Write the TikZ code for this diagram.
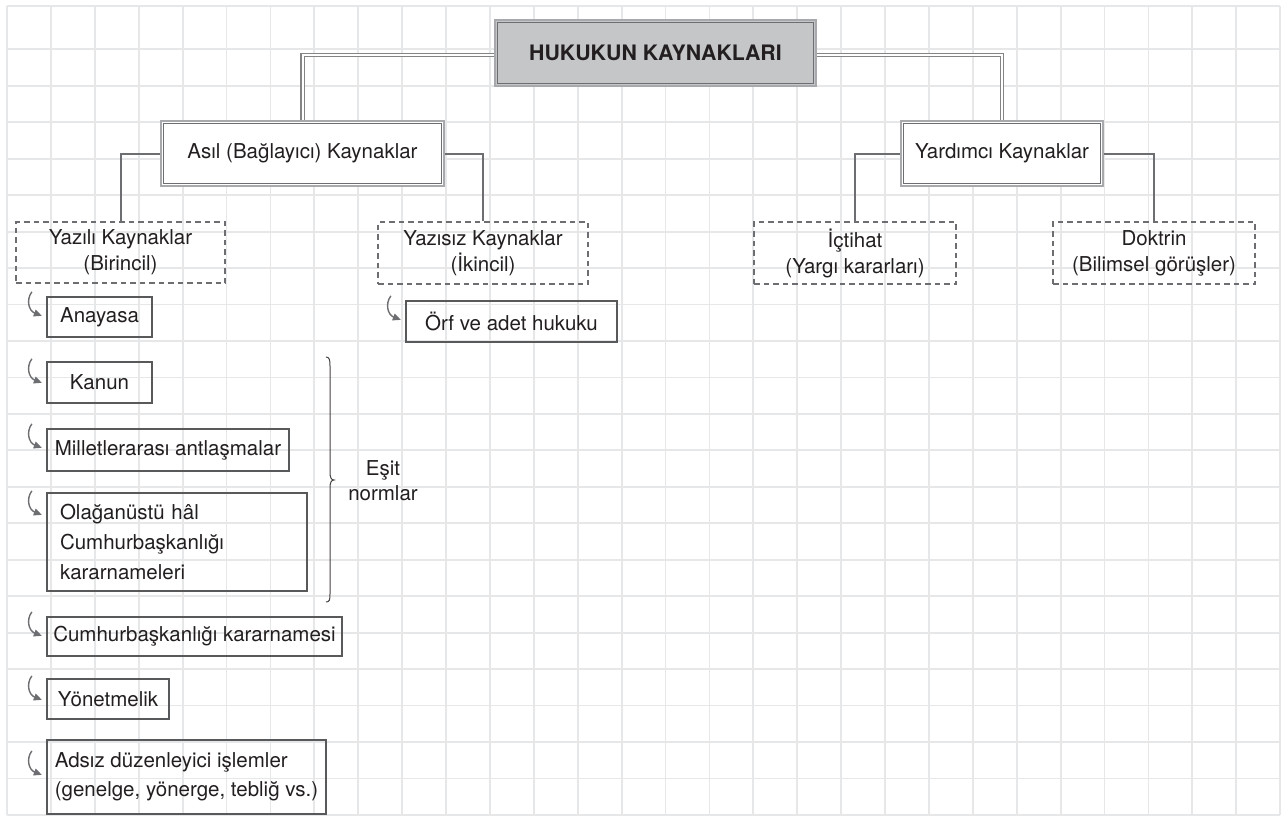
\documentclass[tikz,border=0pt]{standalone}
\usepackage{fontspec}
\setmainfont{TeX Gyre Heros}
\usetikzlibrary{arrows.meta}
\definecolor{gridc}{RGB}{230,231,232}
\definecolor{ink}{RGB}{35,31,32}
\definecolor{lineg}{RGB}{109,110,113}
\definecolor{outerg}{RGB}{167,169,172}
\definecolor{titlefill}{RGB}{197,198,200}
\definecolor{boxg}{RGB}{88,89,91}
\pgfdeclarelayer{bg}
\pgfdeclarelayer{mid}
\pgfsetlayers{bg,mid,main}
\newcommand{\bentarr}[2]{\draw[bent] ([shift={(-14,#2)}]#1.north west) .. controls ([shift={(-20,#2+8)}]#1.north west) and ([shift={(-17,#2+19)}]#1.north west) .. ([shift={(-4,#2+24)}]#1.north west);}
\begin{document}
\begin{tikzpicture}[x=1pt,y=-1pt,
  every node/.style={text=ink, font=\fontsize{20.5}{26}\selectfont},
  gridline/.style={draw=gridc, line width=1.8pt},
  dblbox/.style={draw=outerg, line width=1.1pt, fill=white, inner sep=0pt},
  innerline/.style={draw=lineg, line width=1.3pt},
  dashbox/.style={draw=lineg, line width=2.4pt, dash pattern=on 5.5pt off 4pt, align=center, inner sep=0pt},
  sketchbox/.style={draw=boxg, line width=2.3pt, inner sep=0pt},
  conn/.style={draw=lineg, line width=2pt},
  dconn/.style={draw=lineg!85, line width=1.2pt, double=white, double distance=2pt},
  bent/.style={draw=lineg, line width=1.4pt, -{Triangle[length=8pt,width=7pt]}},
  bracel/.style={draw=ink!85, line width=1pt}
]
\useasboundingbox (0,0) rectangle (1282,816);
\begin{pgfonlayer}{bg}
\fill[white] (0,0) rectangle (1282,816);
\foreach \i in {0,...,29} \draw[gridline] ({7+43.9*\i},6) -- ({7+43.9*\i},815);
\draw[gridline] (7,6) -- (1280,6);
\foreach \j in {0,...,21} \draw[gridline] (7,{49.3+36.46*\j}) -- (1280,{49.3+36.46*\j});
\end{pgfonlayer}

% top level
\node[dblbox, fill=titlefill, minimum width=321pt, minimum height=66pt, font=\fontsize{21.3}{26}\selectfont\bfseries] (title) at (655.5,53) {HUKUKUN KAYNAKLARI};
\draw[innerline] ([shift={(2.8,2.8)}]title.north west) rectangle ([shift={(-2.8,-2.8)}]title.south east);

\node[dblbox, minimum width=283pt, minimum height=65pt] (asil) at (302.5,153.5) {Asıl (Bağlayıcı) Kaynaklar};
\draw[innerline] ([shift={(2.8,2.8)}]asil.north west) rectangle ([shift={(-2.8,-2.8)}]asil.south east);

\node[dblbox, minimum width=202pt, minimum height=65pt] (yard) at (1002,153.5) {Yardımcı Kaynaklar};
\draw[innerline] ([shift={(2.8,2.8)}]yard.north west) rectangle ([shift={(-2.8,-2.8)}]yard.south east);

% second level
\node[dashbox, minimum width=209pt, minimum height=61pt] (yazili) at (120.5,252.5) {Yazılı Kaynaklar\\(Birincil)};
\node[dashbox, minimum width=210pt, minimum height=62pt] (yazisiz) at (483,253) {Yazısız Kaynaklar\\(İkincil)};
\node[dashbox, minimum width=202pt, minimum height=62pt] (ictihat) at (855,253) {İçtihat\\(Yargı kararları)};
\node[dashbox, minimum width=202pt, minimum height=62pt] (doktrin) at (1154,253) {Doktrin\\(Bilimsel görüşler)};

% leaves
\node[sketchbox, minimum width=211pt, minimum height=41pt] (orf) at (511.5,321.5) {Örf ve adet hukuku};
\node[sketchbox, minimum width=105pt, minimum height=40pt] (anayasa) at (99.5,317) {Anayasa};
\node[sketchbox, minimum width=105pt, minimum height=41pt] (kanun) at (99.5,382.5) {Kanun};
\node[sketchbox, minimum width=242pt, minimum height=42pt] (millet) at (168,450) {Milletlerarası antlaşmalar};
\node[sketchbox, minimum width=260pt, minimum height=98pt, text width=234pt, inner xsep=13pt, align=left, font=\fontsize{20.5}{30}\selectfont] (olag) at (177,542) {Olağanüstü hâl\\Cumhurbaşkanlığı\\kararnameleri};
\node[sketchbox, minimum width=295pt, minimum height=39pt] (cbk) at (194.5,636.5) {Cumhurbaşkanlığı kararnamesi};
\node[sketchbox, minimum width=122pt, minimum height=40pt] (yonet) at (108,699) {Yönetmelik};
\node[sketchbox, minimum width=279pt, minimum height=74pt, align=left, font=\fontsize{20.5}{29}\selectfont] (adsiz) at (186.5,777) {Adsız düzenleyici işlemler\\(genelge, yönerge, tebliğ vs.)};

% brace and label
\draw[bracel] (326,357) .. controls (329.5,357) and (330,360) .. (330,366) -- (330,472) .. controls (330,477) and (331,480) .. (334,480) .. controls (331,480) and (330,483) .. (330,488) -- (330,594) .. controls (330,600) and (329.5,602) .. (326,602);
\node[align=center, font=\fontsize{20.5}{25}\selectfont] (esit) at (383,481) {Eşit\\normlar};

% connectors
\begin{pgfonlayer}{mid}
\draw[dconn] ([shift={(0,2)}]title.west) -| (asil.north);
\draw[dconn] ([shift={(0,2)}]title.east) -| (yard.north);
\draw[conn] (asil.west) -| (yazili.north);
\draw[conn] (asil.east) -| (yazisiz.north);
\draw[conn] (yard.west) -| (ictihat.north);
\draw[conn] (yard.east) -| (doktrin.north);
\end{pgfonlayer}

% bent arrows
\bentarr{anayasa}{-4}
\bentarr{kanun}{-2}
\bentarr{millet}{-4}
\bentarr{olag}{-1}
\bentarr{cbk}{-4}
\bentarr{yonet}{-2}
\bentarr{adsiz}{12}
\bentarr{orf}{-4}
\end{tikzpicture}
\end{document}
